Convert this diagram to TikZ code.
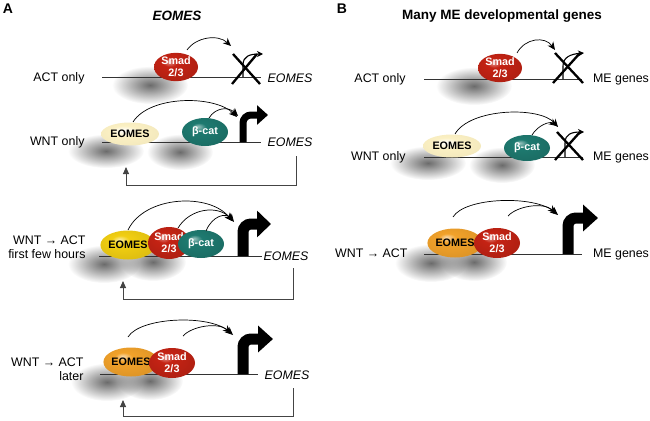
\documentclass[tikz,border=0pt]{standalone}
\usepackage{fontspec}
\setmainfont{Liberation Sans}
\usetikzlibrary{shapes.geometric,arrows.meta,fadings}
\definecolor{smadred}{HTML}{C52314}
\definecolor{bcat}{HTML}{1E7A70}
\definecolor{eompale}{HTML}{FBF0C3}
\definecolor{eomyel}{HTML}{F2CF12}
\definecolor{eomorg}{HTML}{F2A22A}
\definecolor{geneline}{HTML}{333333}
\definecolor{fbgray}{HTML}{444444}
\tikzfading[name=softblob, inner color=transparent!0, outer color=transparent!100]
\pgfdeclareradialshading{smadsh}{\pgfpoint{-8bp}{10bp}}{color(0bp)=(smadred!45!white); color(8bp)=(smadred); color(32bp)=(smadred!88!black); color(50bp)=(smadred!65!black)}
\pgfdeclareradialshading{bcatsh}{\pgfpoint{-8bp}{10bp}}{color(0bp)=(bcat!45!white); color(8bp)=(bcat); color(32bp)=(bcat!88!black); color(50bp)=(bcat!65!black)}
\pgfdeclareradialshading{palesh}{\pgfpoint{-6bp}{8bp}}{color(0bp)=(white); color(12bp)=(eompale); color(40bp)=(eompale!95!black); color(50bp)=(eompale!85!black)}
\pgfdeclareradialshading{yelsh}{\pgfpoint{-8bp}{10bp}}{color(0bp)=(eomyel!40!white); color(8bp)=(eomyel); color(34bp)=(eomyel!90!black); color(50bp)=(eomyel!75!black)}
\pgfdeclareradialshading{orgsh}{\pgfpoint{-8bp}{10bp}}{color(0bp)=(eomorg!40!white); color(8bp)=(eomorg); color(34bp)=(eomorg!90!black); color(50bp)=(eomorg!75!black)}
\newcommand\lblfont{\fontsize{12.4}{14}\selectfont}
\newcommand\protfont{\fontsize{10.8}{13}\selectfont\bfseries}
\begin{document}
\begin{tikzpicture}[x=1pt,y=-1pt,
  shadowblob/.style={fill=black!58, path fading=softblob},
  gline/.style={draw=geneline, line width=0.9pt},
  prot/.style={ellipse, inner sep=0pt, font=\protfont, align=center},
  smad/.style={prot, shading=smadsh, text=white},
  bcatp/.style={prot, shading=bcatsh, text=white},
  eomp/.style={prot, shading=palesh, text=black},
  eomy/.style={prot, shading=yelsh, text=black},
  eomo/.style={prot, shading=orgsh, text=black},
  regarc/.style={draw=black, line width=0.7pt, -{Stealth[length=8pt,width=7pt]}},
  thinprom/.style={draw=black, line width=1.1pt, -{Stealth[length=6pt,width=6pt]}},
  cross/.style={draw=black, line width=2.3pt},
  thickprom/.style={draw=black, rounded corners=8pt},
  feedback/.style={draw=fbgray, line width=0.9pt, -{Triangle[length=7pt,width=6pt]}},
  rowlbl/.style={anchor=east, font=\lblfont, align=right},
  genelbl/.style={font=\lblfont\itshape},
  melbl/.style={font=\lblfont},
  ttl/.style={font=\fontsize{13.5}{15}\selectfont\bfseries},
  panel/.style={font=\fontsize{14}{16}\selectfont\bfseries}]
\useasboundingbox (0,0) rectangle (650,420);

% ---------- titles ----------
\node[panel] (pA) at (8,9) {A};
\node[ttl] (tA) at (177,16) {\itshape EOMES};
\node[panel] (pB) at (342,9) {B};
\node[ttl] (tB) at (502,16) {Many ME developmental genes};

% ---------- shadows ----------
\path[shadowblob] (150,85) ellipse (38 and 19);
\path[shadowblob] (106,151) ellipse (38 and 17);
\path[shadowblob] (180,152) ellipse (33 and 18);
\path[shadowblob] (104,264) ellipse (36 and 19);
\path[shadowblob] (153,262) ellipse (33 and 19);
\path[shadowblob] (107,382) ellipse (36 and 19);
\path[shadowblob] (150,381) ellipse (33 and 19);
\path[shadowblob] (474,86) ellipse (38 and 19);
\path[shadowblob] (428,163) ellipse (38 and 17);
\path[shadowblob] (502,165) ellipse (33 and 18);
\path[shadowblob] (431,263) ellipse (36 and 19);
\path[shadowblob] (474,262) ellipse (33 and 19);

% ---------- row labels ----------
\node[rowlbl] (l1) at (88,78) {ACT only};
\node[rowlbl] (l2) at (88,142) {WNT only};
\node[rowlbl] (l3) at (89,247) {WNT → ACT\\first few hours};
\node[rowlbl] (l4) at (87,369) {WNT → ACT\\later};
\node[rowlbl] (m1) at (409,79) {ACT only};
\node[rowlbl] (m2) at (409,157) {WNT only};
\node[rowlbl] (m3) at (411,253) {WNT → ACT};

% ================= PANEL A =================
% row 1
\coordinate (a1s) at (102,77); \coordinate (a1e) at (261,77);
\draw[gline] (a1s) -- (a1e);
\node[smad, minimum width=44, minimum height=27] (s1) at (176,67) {Smad\\[-1pt]2/3};
\coordinate (p1) at (243,77);
\draw[regarc] (187,50) .. controls (196,37) and (218,34) .. (231,46);
\draw[thinprom] (p1) -- (243,65) .. controls (243,56) and (250,54) .. (263,54);
\draw[cross] (233,54) -- (260,84);
\draw[cross] (257,54) -- (232,84);
\node[genelbl] (g1) at (290,78) {EOMES};

% row 2
\coordinate (a2s) at (102,142); \coordinate (a2e) at (261,142);
\draw[gline] (a2s) -- (a2e);
\node[eomp, minimum width=58, minimum height=23] (e2) at (130,134) {EOMES};
\node[bcatp, minimum width=46, minimum height=28] (b2) at (205,132) {β-cat};
\coordinate (p2) at (243,142);
\draw[regarc] (133,122) .. controls (150,95) and (215,95) .. (237,117);
\draw[regarc] (209,118) .. controls (215,108) and (228,106) .. (238,116);
\draw[thickprom, line width=7pt, -{Triangle[length=11pt,width=19pt]}] (p2) -- (243,115) -- (268,115);
\node[genelbl] (g2) at (290,142) {EOMES};
\draw[feedback] (296,156) -- (296,185) -- (126,185) -- (126,167);

% row 3
\coordinate (a3s) at (99,256); \coordinate (a3e) at (262,256);
\draw[gline] (a3s) -- (a3e);
\node[eomy, minimum width=54, minimum height=29] (e3) at (128,245) {EOMES};
\node[smad, minimum width=42, minimum height=32] (s3) at (169,243) {Smad\\[-1pt]2/3};
\node[bcatp, minimum width=46, minimum height=28] (b3) at (201,244) {β-cat};
\coordinate (p3) at (243,256);
\draw[regarc] (128,230) .. controls (145,195) and (210,193) .. (232,221);
\draw[regarc] (178,228) .. controls (190,208) and (218,205) .. (233,221);
\draw[regarc] (206,231) .. controls (212,216) and (226,212) .. (234,222);
\draw[thickprom, line width=11pt, -{Triangle[length=14pt,width=26pt]}] (p3) -- (243,224) -- (271,224);
\node[genelbl] (g3) at (286,256) {EOMES};
\draw[feedback] (293,268) -- (293,299) -- (123,299) -- (123,281);

% row 4
\coordinate (a4s) at (100,374); \coordinate (a4e) at (258,374);
\draw[gline] (a4s) -- (a4e);
\node[eomo, minimum width=52, minimum height=29] (e4) at (131,362) {EOMES};
\node[smad, minimum width=46, minimum height=30] (s4) at (172,363) {Smad\\[-1pt]2/3};
\coordinate (p4) at (243,374);
\draw[regarc] (128,337) .. controls (140,317) and (210,314) .. (233,335);
\draw[regarc] (183,336) .. controls (192,326) and (218,322) .. (231,333);
\draw[thickprom, line width=11pt, -{Triangle[length=15pt,width=26pt]}] (p4) -- (243,339) -- (273,339);
\node[genelbl] (g4) at (287,375) {EOMES};
\draw[feedback] (293,388) -- (293,416) -- (123,416) -- (123,400);

% ================= PANEL B =================
% row 1
\coordinate (b1s) at (424,79); \coordinate (b1e) at (582,79);
\draw[gline] (b1s) -- (b1e);
\node[smad, minimum width=44, minimum height=27] (s5) at (500,68) {Smad\\[-1pt]2/3};
\coordinate (q1) at (563,79);
\draw[regarc] (517,53) .. controls (525,38) and (545,36) .. (555,50);
\draw[thinprom] (q1) -- (563,66) .. controls (563,57) and (571,54) .. (584,53);
\draw[cross] (555,53) -- (583,83);
\draw[cross] (580,53) -- (553,83);
\node[melbl] (n1) at (621,80) {ME genes};

% row 2
\coordinate (b2s) at (424,157); \coordinate (b2e) at (583,157);
\draw[gline] (b2s) -- (b2e);
\node[eomp, minimum width=58, minimum height=23] (e6) at (452,146) {EOMES};
\node[bcatp, minimum width=46, minimum height=26] (b6) at (527,148) {β-cat};
\coordinate (q2) at (565,157);
\draw[regarc] (455,134) .. controls (470,108) and (540,106) .. (558,127);
\draw[regarc] (532,135) .. controls (538,125) and (550,121) .. (557,126);
\draw[thinprom] (q2) -- (565,143) .. controls (565,134) and (572,132) .. (584,132);
\draw[cross] (557,132) -- (583,160);
\draw[cross] (580,132) -- (555,160);
\node[melbl] (n2) at (621,158) {ME genes};

% row 3
\coordinate (b3s) at (424,254); \coordinate (b3e) at (582,254);
\draw[gline] (b3s) -- (b3e);
\node[eomo, minimum width=52, minimum height=29] (e7) at (455,243) {EOMES};
\node[smad, minimum width=46, minimum height=30] (s7) at (497,243) {Smad\\[-1pt]2/3};
\coordinate (q3) at (568,254);
\draw[regarc] (453,217) .. controls (465,197) and (535,195) .. (558,215);
\draw[regarc] (508,216) .. controls (517,206) and (543,202) .. (556,213);
\draw[thickprom, line width=11pt, -{Triangle[length=15pt,width=26pt]}] (q3) -- (568,218) -- (598,218);
\node[melbl] (n3) at (621,255) {ME genes};
\end{tikzpicture}
\end{document}
